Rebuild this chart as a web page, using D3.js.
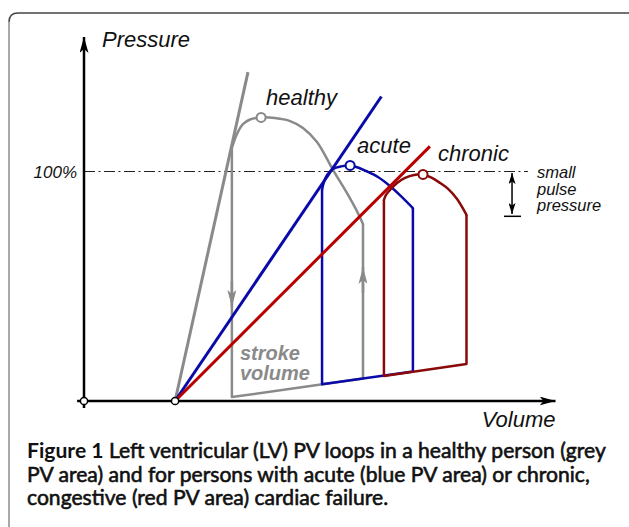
<!DOCTYPE html>
<html>
<head>
<meta charset="utf-8">
<script src="https://cdn.jsdelivr.net/npm/d3@7"></script>
<style>
  html, body { margin: 0; padding: 0; background: #fff; }
  svg { display: block; }
  .lbl { font-family: 'Liberation Sans', Arial, sans-serif; font-style: italic; fill: #111; }
  .caption { font-family: Lato, 'Open Sans', sans-serif; fill: #111; }
</style>
</head>
<body>
<div id="chart"></div>
<script>
// volume (x) in arbitrary units, pressure (y) in % of normal systolic pressure
const V0 = 39.6   // all ESPVR lines start here at zero pressure

const loopNames  = ['healthy', 'acute', 'chronic']
const espvrTopV  = [71.3, 129.3, 150.4]
const espvrTopP  = [143.0, 132.4, 110.7]

// ejection arcs, listed from end-systole (left) to end-diastole (right)
const healthyArc = [[64.3, 110.0], [66.5, 116.1], [69.1, 120.4], [72.2, 122.4], [77.0, 123.3],
  [83.0, 123.0], [89.6, 121.7], [95.2, 118.7], [101.3, 112.6], [108.3, 100.4],
  [114.8, 89.6], [119.1, 81.7], [121.3, 77.0]]
const acuteArc = [[103.5, 91.7], [104.3, 95.2], [105.7, 98.3], [108.3, 100.9], [111.7, 102.0],
  [115.7, 102.4], [119.1, 101.5], [122.6, 100.0], [127.8, 97.4], [133.0, 93.5],
  [137.8, 89.1], [143.0, 83.9]]
const chronicArc = [[130.4, 87.4], [131.3, 89.6], [133.0, 91.7], [136.1, 94.8], [139.6, 97.0],
  [143.5, 98.3], [147.4, 98.5], [151.3, 97.0], [154.8, 94.8], [158.3, 92.2],
  [162.2, 87.8], [166.3, 80.9]]

// filling (EDPVR) segments: [end-systolic point, end-diastolic point]
const healthyFill = [[64.3, 1.7], [121.3, 9.8]]
const acuteFill   = [[103.5, 7.3], [143.0, 12.8]]
const chronicFill = [[130.4, 10.9], [166.3, 16.1]]

// peak pressure markers
const peakV = [77.0, 115.7, 147.4]
const peakP = [123.3, 102.4, 98.5]

const refPressure = [100]
const refLabel = ['100%']
const pulseLabel = ['small', 'pulse', 'pressure']
const strokeLabel = ['stroke', 'volume']

const captionLines = [
  ['Figure 1', ' Left ventricular (LV) PV loops in a healthy person (grey'],
  ['', 'PV area) and for persons with acute (blue PV area) or chronic,'],
  ['', 'congestive (red PV area) cardiac failure.']
]

const W = 629, H = 527
const grey = '#8a8a8a', blue = '#0a0aa8', red = '#b80000', maroon = '#8a0a0a'
const espvrColor = [grey, blue, red]
const loopColor  = [grey, blue, maroon]
const arcs  = [healthyArc, acuteArc, chronicArc]
const fills = [healthyFill, acuteFill, chronicFill]

const x = d3.scaleLinear().domain([0, 205]).range([84, 555.5])
const y = d3.scaleLinear().domain([0, 100]).range([401, 171])

const svg = d3.select('#chart').append('svg')
  .attr('width', W).attr('height', H)
  .attr('viewBox', `0 0 ${W} ${H}`)

svg.append('rect').attr('width', W).attr('height', H).attr('fill', '#fff')

const defs = svg.append('defs')
function arrowMarker (id, color, len, half, notch) {
  defs.append('marker')
    .attr('id', id)
    .attr('markerUnits', 'userSpaceOnUse')
    .attr('viewBox', `${-len} ${-half} ${len + 1} ${half * 2}`)
    .attr('refX', 0).attr('refY', 0)
    .attr('markerWidth', len + 1).attr('markerHeight', half * 2)
    .attr('orient', 'auto')
    .append('path')
    .attr('d', `M0,0 L${-len},${-half} L${-len + notch},0 L${-len},${half} Z`)
    .attr('fill', color)
}
arrowMarker('ax-arrow', '#000', 16, 4.5, 4)
arrowMarker('grey-arrow', grey, 17, 4.5, 4)
arrowMarker('pp-arrow', '#000', 11, 3.5, 2.5)

// frame
svg.append('path')
  .attr('d', 'M9,527 L9,22')
  .attr('fill', 'none').attr('stroke', '#8c8c8c').attr('stroke-width', 1.5)
svg.append('path')
  .attr('d', 'M9,22 Q9,13 18,13 L629,13')
  .attr('fill', 'none').attr('stroke', '#444').attr('stroke-width', 1.5)

const g = svg.append('g')

// 100% reference line
const refAxis = g.append('g')
  .attr('transform', `translate(${x(0)},0)`)
  .call(d3.axisLeft(y).tickValues(refPressure).tickFormat((d, i) => refLabel[i])
    .tickSizeInner(-(x(193) - x(0))).tickSizeOuter(0).tickPadding(7))
refAxis.select('.domain').remove()
refAxis.selectAll('.tick line')
  .attr('stroke', '#222').attr('stroke-width', 1.2)
  .attr('stroke-dasharray', '11,3.5,2,3.5')
refAxis.selectAll('.tick text')
  .attr('class', 'lbl')
  .style('font-size', '17px')
  .attr('dy', '0.38em')

const line = d3.line().x(d => x(d[0])).y(d => y(d[1]))
const arcLine = d3.line().x(d => x(d[0])).y(d => y(d[1])).curve(d3.curveCatmullRom.alpha(0.5))

// loops
loopNames.forEach((name, i) => {
  const arc = arcs[i], fill = fills[i]
  g.append('path')
    .attr('class', `loop loop-${name}`)
    .attr('d', line([arc[0], fill[0], fill[1], arc[arc.length - 1]]))
    .attr('fill', 'none').attr('stroke', loopColor[i])
    .attr('stroke-width', 2.5).attr('stroke-linejoin', 'round')
  g.append('path')
    .attr('d', arcLine(arc))
    .attr('fill', 'none').attr('stroke', loopColor[i])
    .attr('stroke-width', 2.5).attr('stroke-linecap', 'round')
})

// direction arrows on the healthy loop
g.append('path')
  .attr('d', line([[healthyFill[0][0], 52], [healthyFill[0][0], 40.9]]))
  .attr('stroke', grey).attr('stroke-width', 2.5).attr('marker-end', 'url(#grey-arrow)')
g.append('path')
  .attr('d', line([[healthyFill[1][0], 47], [healthyFill[1][0], 58.3]]))
  .attr('stroke', grey).attr('stroke-width', 2.5).attr('marker-end', 'url(#grey-arrow)')

// ESPVR lines
loopNames.forEach((name, i) => {
  g.append('path')
    .attr('d', line([[V0, 0], [espvrTopV[i], espvrTopP[i]]]))
    .attr('stroke', espvrColor[i]).attr('stroke-width', 3)
})

// peak markers
g.selectAll('.peak')
  .data(peakV)
  .join('circle')
  .attr('class', 'peak')
  .attr('cx', d => x(d))
  .attr('cy', (d, i) => y(peakP[i]))
  .attr('r', 4.5)
  .attr('fill', '#fff')
  .attr('stroke', (d, i) => loopColor[i])
  .attr('stroke-width', 2)

// axes
g.append('path')
  .attr('d', line([[0, -3], [0, 158.3]]))
  .attr('stroke', '#000').attr('stroke-width', 2.5).attr('marker-end', 'url(#ax-arrow)')
g.append('path')
  .attr('d', line([[-3, 0], [205, 0]]))
  .attr('stroke', '#000').attr('stroke-width', 2.5).attr('marker-end', 'url(#ax-arrow)')
g.selectAll('.origin')
  .data([0, V0])
  .join('circle')
  .attr('class', 'origin')
  .attr('cx', d => x(d)).attr('cy', y(0)).attr('r', 3.6)
  .attr('fill', '#fff').attr('stroke', '#000').attr('stroke-width', 1.5)

// axis titles
g.append('text').attr('class', 'lbl')
  .attr('x', x(0) + 18).attr('y', 47)
  .style('font-size', '22px').text('Pressure')
g.append('text').attr('class', 'lbl')
  .attr('x', x(205)).attr('y', y(0) + 26)
  .attr('text-anchor', 'end')
  .style('font-size', '22px').text('Volume')

// loop names
const nameOffset = [[5, -12.5], [7, -12.5], [15, -13.5]]
loopNames.forEach((name, i) => {
  g.append('text').attr('class', 'lbl')
    .attr('x', x(peakV[i]) + nameOffset[i][0])
    .attr('y', y(peakP[i]) + nameOffset[i][1])
    .style('font-size', '22px').text(name)
})

// small pulse pressure marker
const ppV = 186.1
g.append('path')
  .attr('d', line([[ppV, 90], [ppV, 99.1]]))
  .attr('stroke', '#000').attr('stroke-width', 1.5).attr('marker-end', 'url(#pp-arrow)')
g.append('path')
  .attr('d', line([[ppV, 90], [ppV, 81.3]]))
  .attr('stroke', '#000').attr('stroke-width', 1.5).attr('marker-end', 'url(#pp-arrow)')
g.append('path')
  .attr('d', line([[182.6, 80.3], [190.0, 80.3]]))
  .attr('stroke', '#000').attr('stroke-width', 1.5)
pulseLabel.forEach((word, i) => {
  g.append('text').attr('class', 'lbl')
    .style('font-size', '16.5px')
    .attr('x', x(ppV) + 25)
    .attr('y', y(100) + 7 + i * 16.5)
    .text(word)
})

// stroke volume label
strokeLabel.forEach((word, i) => {
  g.append('text').attr('class', 'lbl')
    .style('font-size', '20px').style('font-weight', 'bold').style('fill', grey)
    .attr('x', x(healthyFill[0][0]) + 8)
    .attr('y', y(0) - 41 + i * 20)
    .text(word)
})

// caption
const cap = svg.append('g').attr('class', 'caption')
const capTexts = captionLines.map((ln, i) => {
  const t = cap.append('text')
    .attr('x', 27).attr('y', 458 + i * 23.5)
    .style('font-size', '17px')
  if (ln[0]) t.append('tspan').style('font-weight', 700).text(ln[0])
  t.append('tspan')
    .style('font-weight', 400)
    .attr('stroke', '#111').attr('stroke-width', 0.6)
    .text(ln[1])
  return t
})
const w1 = capTexts[0].node().getComputedTextLength()
const capSize = 17 * 579 / w1
capTexts.forEach(t => t.style('font-size', `${capSize}px`))
</script>
</body>
</html>
